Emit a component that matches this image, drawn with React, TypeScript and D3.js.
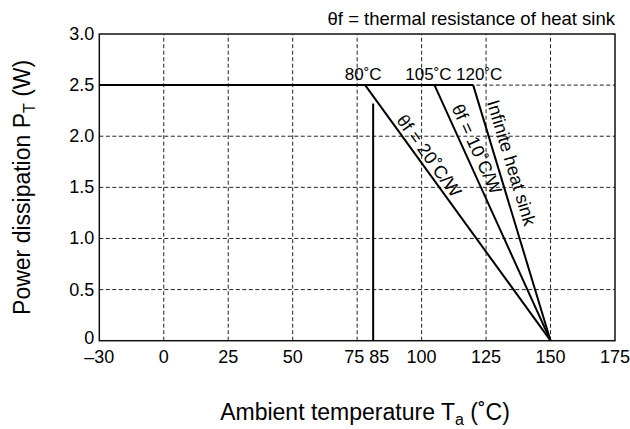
import * as d3 from "d3";

const W = 630;
const H = 429;
const margin = { left: 99.3, right: 15, top: 34, bottom: 88.3 };

// axis ticks
const tempTicks = [-30, 0, 25, 50, 75, 85, 100, 125, 150, 175];
const tempTickLabels = ["–30", "0", "25", "50", "75", "85", "100", "125", "150", "175"];
const tempGrid = [0, 25, 50, 75, 100, 125, 150];
const powerTicks = [0, 0.5, 1.0, 1.5, 2.0, 2.5, 3.0];
const powerTickLabels = ["0", "0.5", "1.0", "1.5", "2.0", "2.5", "3.0"];
const powerGrid = [0.5, 1.0, 1.5, 2.0, 2.5];

// derating curves
const maxPower = 2.5;
const flatStart = -30;
const zeroTemp = 150;
const breakTemps = [80, 105, 120];
const breakLabels = ["80˚C", "105˚C", "120˚C"];
const curveLabels = ["θf = 20˚C/W", "θf = 10˚C/W", "Infinite heat sink"];
const limitTemp = 85;
const limitPower = 2.32;

export default function App() {
  const x0 = margin.left;
  const x1 = W - margin.right;
  const step = (x1 - x0) / 8;
  // the datasheet axis is drawn schematically: -30 squeezed into one step, 85 close to 75
  const x = d3
    .scaleLinear()
    .domain([-30, 0, 75, 85, 100, 175])
    .range([x0, x0 + step, x0 + 4 * step, x0 + 4 * step + 16, x0 + 5 * step, x1]);
  const y = d3
    .scaleLinear()
    .domain([0, 3])
    .range([H - margin.bottom, margin.top]);

  const line = d3
    .line<[number, number]>()
    .x((d) => x(d[0]))
    .y((d) => y(d[1]));

  const font = "'Liberation Sans', Arial, Helvetica, sans-serif";
  const labelT = [0.3, 0.27, 0.32];
  const labelOff = [10, 12, 14];
  const breakDx = [-2, -6, 6];

  return (
    <svg
      width={W}
      height={H}
      style={{ position: "fixed", left: 0, top: 0, background: "#fff" }}
      fontFamily={font}
    >
      <rect x={0} y={0} width={W} height={H} fill="#fff" />
      {/* grid */}
      {tempGrid.map((t) => (
        <line
          key={"vx" + t}
          x1={x(t)}
          x2={x(t)}
          y1={y(0)}
          y2={y(3)}
          stroke="#222"
          strokeWidth={1}
          strokeDasharray="4,2.5"
        />
      ))}
      {powerGrid.map((p) => (
        <line
          key={"hy" + p}
          x1={x(-30)}
          x2={x(175)}
          y1={y(p)}
          y2={y(p)}
          stroke="#222"
          strokeWidth={1}
          strokeDasharray="4,2.5"
        />
      ))}
      {/* frame */}
      <rect
        x={x0}
        y={y(3)}
        width={x1 - x0}
        height={y(0) - y(3)}
        fill="none"
        stroke="#111"
        strokeWidth={1.5}
      />
      {/* curves */}
      <path
        d={line([
          [flatStart, maxPower],
          [breakTemps[2], maxPower],
        ])!}
        fill="none"
        stroke="#000"
        strokeWidth={2}
      />
      {breakTemps.map((t) => (
        <path
          key={"c" + t}
          d={line([
            [t, maxPower],
            [zeroTemp, 0],
          ])!}
          fill="none"
          stroke="#000"
          strokeWidth={2}
        />
      ))}
      <path
        d={line([
          [limitTemp, 0],
          [limitTemp, limitPower],
        ])!}
        fill="none"
        stroke="#000"
        strokeWidth={2}
      />
      {/* break labels */}
      {breakTemps.map((t, i) => (
        <text
          key={"bl" + t}
          x={x(t) + breakDx[i]}
          y={y(maxPower) - 5}
          fontSize={17}
          textAnchor="middle"
          fill="#000"
        >
          {breakLabels[i]}
        </text>
      ))}
      {/* rotated curve labels */}
      {breakTemps.map((t, i) => {
        const ax = x(t);
        const ay = y(maxPower);
        const bx = x(zeroTemp);
        const by = y(0);
        const len = Math.hypot(bx - ax, by - ay);
        const ux = (bx - ax) / len;
        const uy = (by - ay) / len;
        const px = ax + ux * len * labelT[i] + uy * labelOff[i];
        const py = ay + uy * len * labelT[i] - ux * labelOff[i];
        const ang = (Math.atan2(uy, ux) * 180) / Math.PI;
        return (
          <text
            key={"cl" + t}
            x={px}
            y={py}
            fontSize={18}
            textAnchor="middle"
            dominantBaseline="central"
            transform={`rotate(${ang},${px},${py})`}
            fill="#000"
          >
            {curveLabels[i]}
          </text>
        );
      })}
      {/* x tick labels */}
      {tempTicks.map((t, i) => (
        <text
          key={"xt" + t}
          x={x(t) + (t === 75 ? -3 : t === 85 ? 6 : 0)}
          y={y(0) + 22}
          fontSize={18}
          textAnchor="middle"
          fill="#000"
        >
          {tempTickLabels[i]}
        </text>
      ))}
      {/* y tick labels */}
      {powerTicks.map((p, i) => (
        <text
          key={"yt" + p}
          x={x0 - 5}
          y={y(p) - (p === 0 ? 3 : 0)}
          fontSize={18}
          textAnchor="end"
          dominantBaseline="central"
          fill="#000"
        >
          {powerTickLabels[i]}
        </text>
      ))}
      {/* axis titles */}
      <text x={365} y={420} fontSize={23} textAnchor="middle" fill="#000">
        Ambient temperature T
        <tspan fontSize={16} dy={5}>
          a
        </tspan>
        <tspan dy={-5}> (˚C)</tspan>
      </text>
      <text
        transform={`translate(30,${(y(0) + y(3)) / 2}) rotate(-90)`}
        fontSize={23}
        textAnchor="middle"
        fill="#000"
      >
        Power dissipation P
        <tspan fontSize={16} dy={5}>
          T
        </tspan>
        <tspan dy={-5}> (W)</tspan>
      </text>
      <text x={615} y={25} fontSize={18.5} textAnchor="end" fill="#000">
        θf = thermal resistance of heat sink
      </text>
    </svg>
  );
}
